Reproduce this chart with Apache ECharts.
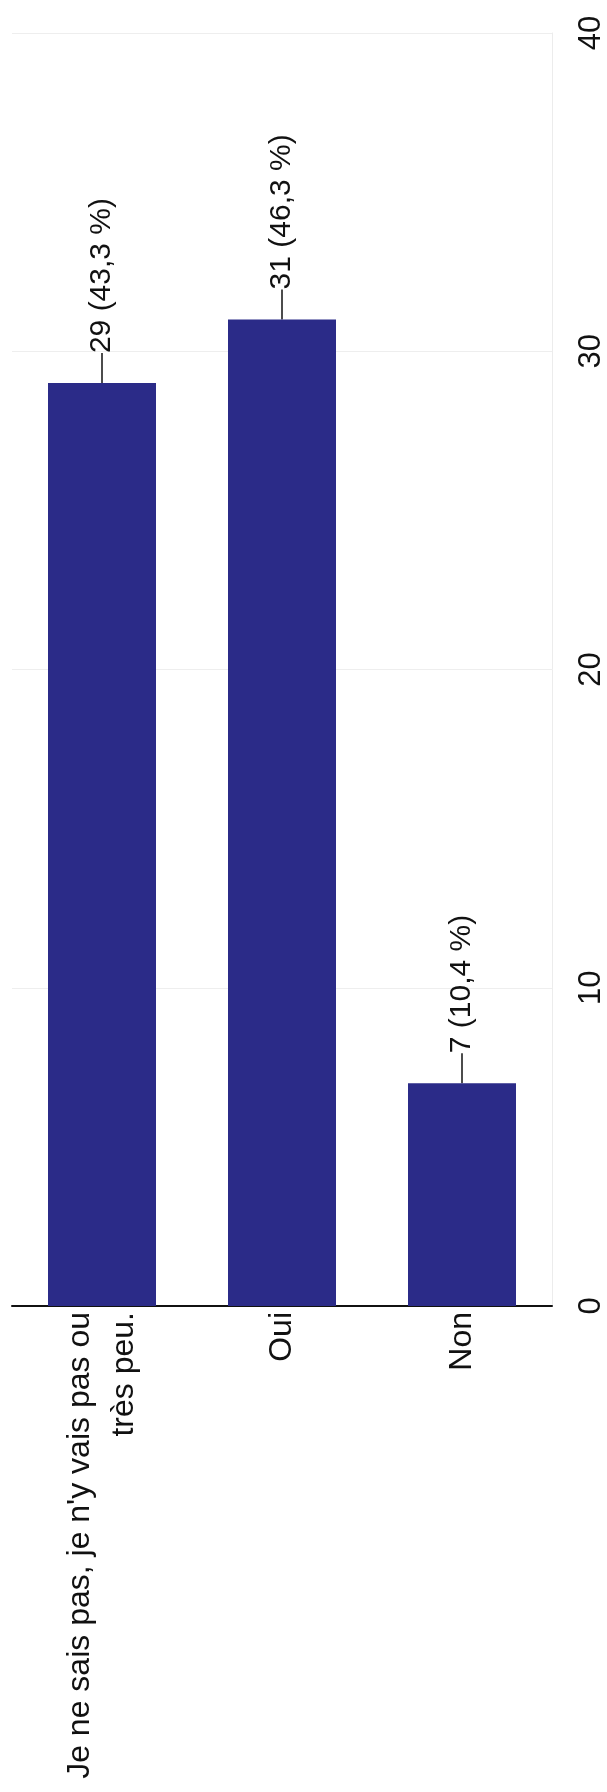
<!DOCTYPE html>
<html>
<head>
<meta charset="utf-8">
<script src="https://cdn.jsdelivr.net/npm/echarts@6/dist/echarts.min.js"></script>
<style>
  html, body { margin: 0; padding: 0; background: #fff; }
  #chart { width: 607px; height: 1792px; }
</style>
</head>
<body>
<div id="chart"></div>
<script>
// catégories (de gauche à droite après rotation)
const categories = ["Je ne sais pas, je n'y vais pas ou\ntrès peu.", "Oui", "Non"]
const counts = [29, 31, 7]
const percents = ["43,3", "46,3", "10,4"]
const valueTicks = [0, 10, 20, 30, 40]

let myChart = echarts.init(document.getElementById("chart"))

myChart.setOption({
    animation: false,
    textStyle: { fontFamily: "Liberation Sans, Arial, sans-serif" },
    grid: {
        left: 12,
        right: 45,
        top: 33,
        bottom: 486
    },
    xAxis: {
        type: "category",
        data: categories,
        axisTick: { show: false },
        axisLine: { lineStyle: { color: "#111", width: 2 } },
        axisLabel: {
            interval: 0,
            rotate: 90,
            fontSize: 32,
            lineHeight: 44,
            color: "#111",
            margin: 6
        }
    },
    yAxis: {
        type: "value",
        position: "right",
        min: valueTicks[0],
        max: valueTicks[valueTicks.length - 1],
        interval: 10,
        axisLine: { show: true, lineStyle: { color: "#ececec" } },
        axisTick: { show: false },
        splitLine: { lineStyle: { color: "#eeeeee" } },
        axisLabel: {
            rotate: 90,
            fontSize: 31,
            color: "#111",
            margin: 24
        }
    },
    series: [
        {
            type: "bar",
            data: counts,
            barCategoryGap: "40%",
            itemStyle: { color: "#2b2b88" },
            label: {
                show: true,
                position: "top",
                distance: 30,
                rotate: 90,
                align: "left",
                verticalAlign: "middle",
                fontSize: 30,
                color: "#111",
                formatter: (p) => p.value + " (" + percents[p.dataIndex] + " %)"
            },
            labelLine: {
                show: true,
                lineStyle: { color: "#111", width: 1.5 }
            }
        }
    ]
})
</script>
</body>
</html>
